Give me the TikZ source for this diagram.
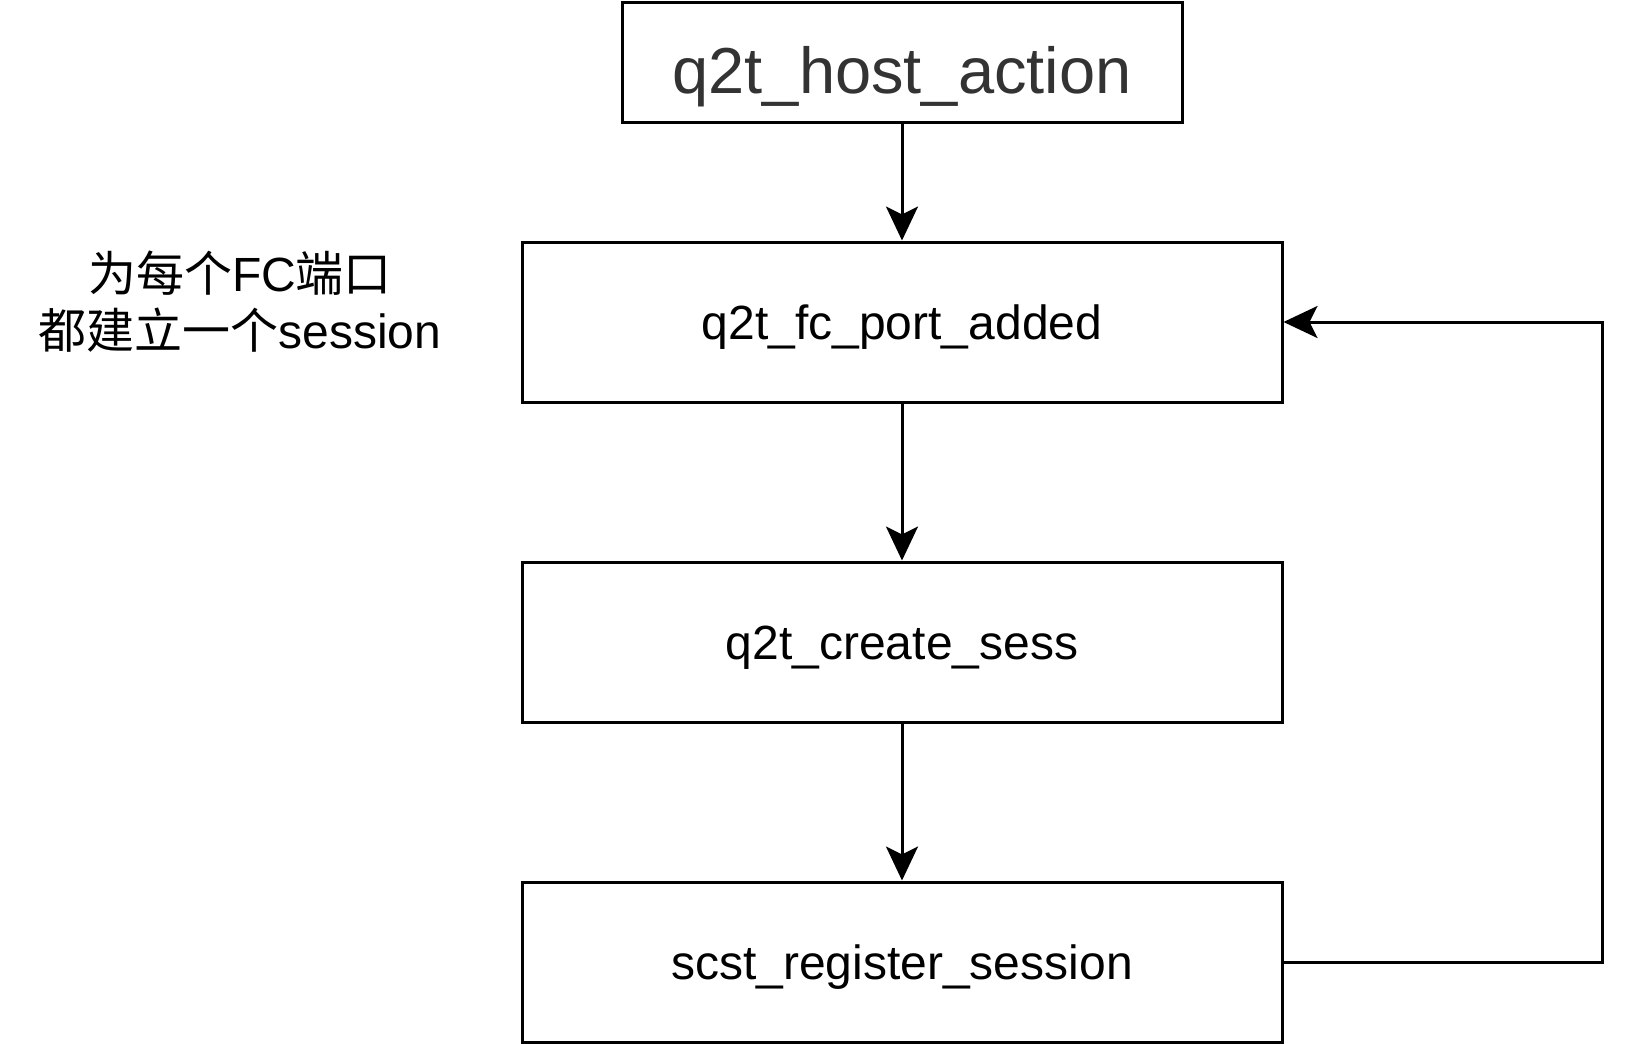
\documentclass[tikz,border=0pt]{standalone}
\usepackage{fontspec}
\setmainfont{Liberation Sans}
\newfontfamily\cjk{Noto Sans CJK SC}
\usetikzlibrary{arrows.meta}

\definecolor{titelgrau}{HTML}{333333}

\tikzset{
  kasten/.style={draw, line width=3pt, minimum width=760pt, minimum height=160pt,
    inner sep=0pt, text height=35pt, text depth=0pt, font=\fontsize{48}{58}\selectfont},
  pfeil/.style={line width=3pt, -{Stealth[length=34pt,width=32pt,inset=8pt]}}
}

\begin{document}
\begin{tikzpicture}[x=1pt,y=1pt]
    % Rahmen
    \useasboundingbox (0,0) rectangle (1636,-1044);

    % Kaesten
    \node[kasten, minimum width=560pt, minimum height=120pt, text=titelgrau,
      text height=62pt, text depth=0pt,
      font=\fontsize{65}{78}\selectfont] (host) at (902,-62) {q2t\_host\_action};
    \node[kasten] (port) at (902,-322) {q2t\_fc\_port\_added};
    \node[kasten] (create) at (902,-642) {q2t\_create\_sess};
    \node[kasten] (register) at (902,-962) {scst\_register\_session};

    % Hinweis links
    \node[align=center, font=\fontsize{48}{57}\selectfont] (hinweis) at (240,-302)
      {{\cjk 为每个}FC{\cjk 端口}\\{\cjk 都建立一个}session};

    % Pfeile
    \draw[pfeil] (host) -- (port);
    \draw[pfeil] (port) -- (create);
    \draw[pfeil] (create) -- (register);

    % Ruecklauf
    \coordinate (ruecklauf) at (1602,-642);
    \draw[pfeil] (register.east) -| (ruecklauf) |- (port.east);
\end{tikzpicture}
\end{document}
